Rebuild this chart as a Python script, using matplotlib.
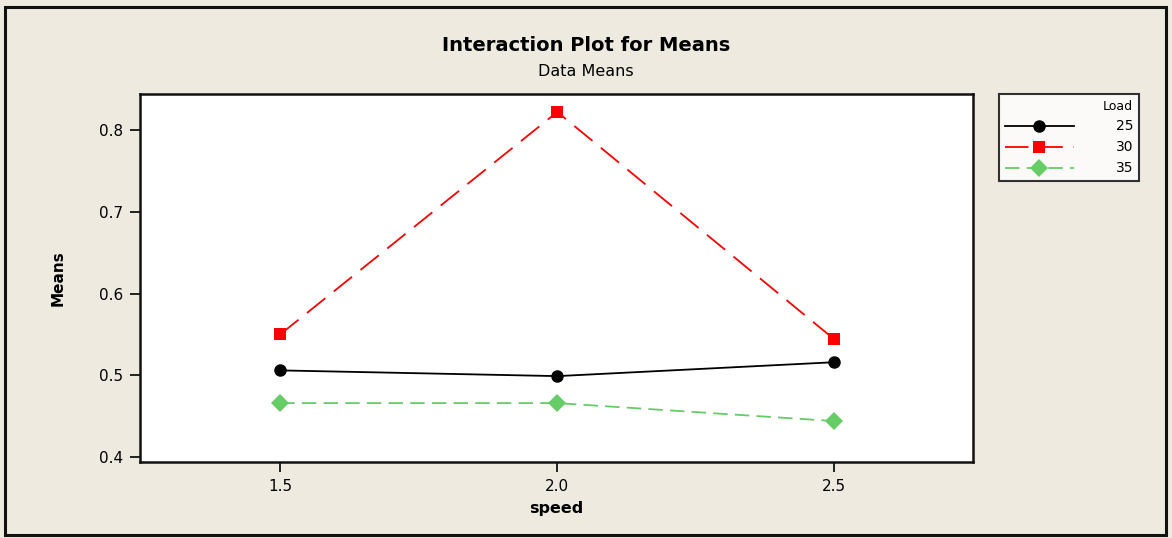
import matplotlib.pyplot as plt
from matplotlib.patches import Rectangle

speed = [1.5, 2.0, 2.5]
load_25 = [0.506, 0.499, 0.516]
load_30 = [0.550, 0.822, 0.544]
load_35 = [0.466, 0.466, 0.444]
load_labels = ['25', '30', '35']

bg = '#eeeae0'

fig = plt.figure(figsize=(11.72, 5.38), dpi=100, facecolor=bg)
ax = fig.add_axes([0.1195, 0.1413, 0.711, 0.684])
ax.set_facecolor('white')

# contorno externo
fig.patches.append(Rectangle((5 / 1172, 3 / 538), 1161 / 1172, 528 / 538,
                             transform=fig.transFigure, fill=False,
                             edgecolor='#111111', linewidth=2.2))

l1, = ax.plot(speed, load_25, color='black', lw=1.3, marker='o',
              markersize=9, markeredgewidth=0)
l2, = ax.plot(speed, load_30, color='#ff0000', lw=1.3, marker='s',
              markersize=9, markeredgewidth=0, dashes=(13, 6))
l3, = ax.plot(speed, load_35, color='#66cc66', lw=1.3, marker='D',
              markersize=9, markeredgewidth=0, dashes=(8, 4))
for ln in (l1, l3, l2):
    ln.set_clip_on(False)

ax.set_xlim(1.247, 2.751)
ax.set_ylim(0.394, 0.844)
ax.set_xticks(speed)
ax.set_xticklabels(['1.5', '2.0', '2.5'])
ax.set_yticks([0.4, 0.5, 0.6, 0.7, 0.8])
ax.set_yticklabels(['0.4', '0.5', '0.6', '0.7', '0.8'])
ax.tick_params(direction='out', length=7, width=1.2, labelsize=11, pad=5)
for s in ax.spines.values():
    s.set_linewidth(1.8)
    s.set_color('#111111')

ax.set_xlabel('speed', fontsize=11.5, fontweight='bold', labelpad=5)
ax.set_ylabel('Means', fontsize=11, fontweight='bold', labelpad=24)

fig.text(0.5, 0.915, 'Interaction Plot for Means', ha='center', va='center',
         fontsize=14, fontweight='bold')
fig.text(0.5, 0.868, 'Data Means', ha='center', va='center', fontsize=11.5)

leg = fig.legend([l1, l2, l3], load_labels, title='Load',
                 loc='upper left', bbox_to_anchor=(999 / 1172, 1 - 94 / 538),
                 borderaxespad=0, frameon=True, fancybox=False, fontsize=10,
                 title_fontsize=9, handlelength=5, borderpad=0.4,
                 labelspacing=0.5, handletextpad=3.0, alignment='right')
leg.get_frame().set_edgecolor('black')
leg.get_frame().set_linewidth(1.5)
leg.get_frame().set_facecolor('white')

plt.savefig('out.png', dpi=100, facecolor=bg)
